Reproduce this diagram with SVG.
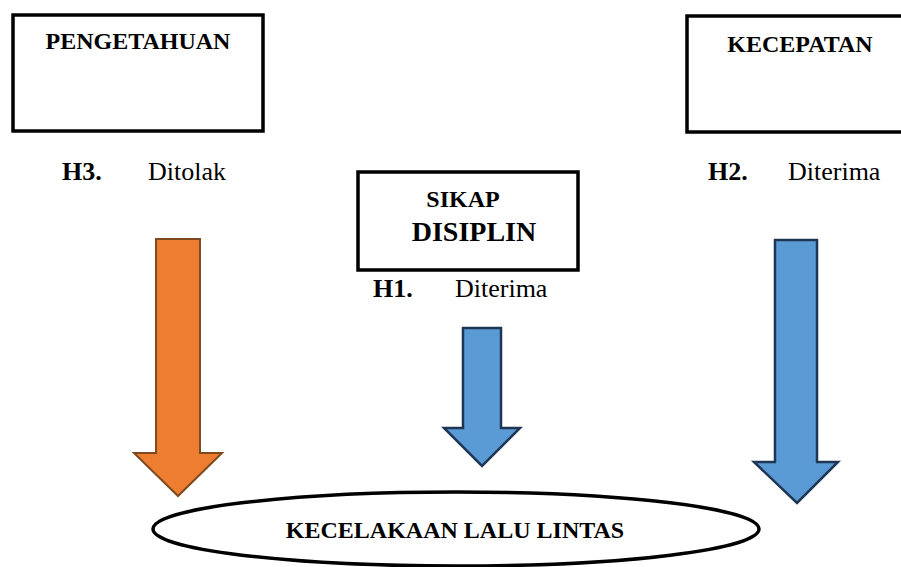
<svg xmlns="http://www.w3.org/2000/svg" width="901" height="567" viewBox="0 0 901 567">
<style>
.box{fill:#fff;stroke:#000;stroke-width:3.5}
.t{font-family:"Liberation Serif","Times New Roman",serif;fill:#000}
.b{font-weight:bold}
.orange{fill:#ED7D31;stroke:#7F4A1E;stroke-width:2}
.blue{fill:#5B9BD5;stroke:#1F3554;stroke-width:2.5}
</style>
<rect width="901" height="567" fill="#fff"/>
<g id="pengetahuan">
<rect class="box" x="13" y="15" width="250" height="116"/>
<text class="t b" x="138" y="49" font-size="24" text-anchor="middle">PENGETAHUAN</text>
</g>
<g id="kecepatan">
<rect class="box" x="687" y="16" width="240" height="116"/>
<text class="t b" x="800" y="52" font-size="24" text-anchor="middle">KECEPATAN</text>
</g>
<g id="sikap">
<rect class="box" x="358" y="172" width="220" height="98"/>
<text class="t b" x="463" y="207" font-size="24" text-anchor="middle">SIKAP</text>
<text class="t b" x="474" y="241" font-size="28" text-anchor="middle">DISIPLIN</text>
</g>
<g id="labels">
<text class="t b" x="62" y="180" font-size="26">H3.</text>
<text class="t" x="148" y="180" font-size="26">Ditolak</text>
<text class="t b" x="708" y="180" font-size="26">H2.</text>
<text class="t" x="788" y="180" font-size="26">Diterima</text>
<text class="t b" x="373" y="297" font-size="26">H1.</text>
<text class="t" x="455" y="297" font-size="26">Diterima</text>
</g>
<g id="connectors">
<polygon class="orange" points="156,239 200,239 200,453 222,453 178,496 134,453 156,453"/>
<polygon class="blue" points="463,328 501,328 501,428 520,428 482,466 444,428 463,428"/>
<polygon class="blue" points="775,240 817,240 817,462 838,462 797,503 754,462 775,462"/>
</g>
<g id="kecelakaan">
<ellipse cx="456" cy="529" rx="303" ry="37" fill="none" stroke="#000" stroke-width="3.5"/>
<text class="t b" x="455" y="538" font-size="24" text-anchor="middle">KECELAKAAN LALU LINTAS</text>
</g>
</svg>
